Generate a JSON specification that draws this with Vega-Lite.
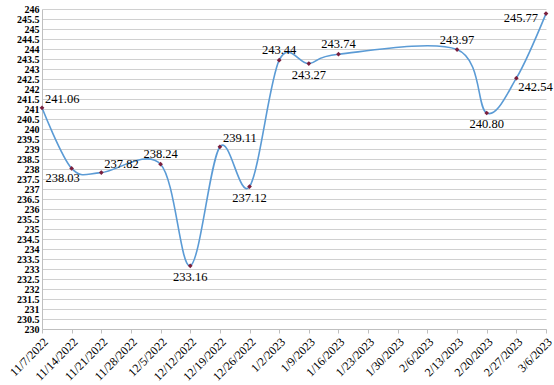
{
  "$schema": "https://vega.github.io/schema/vega-lite/v6.json",
  "autosize": {"type": "none"},
  "padding": {"left": 42, "top": 9, "right": 8, "bottom": 56},
  "width": 504,
  "height": 320,
  "background": "white",
  "config": {"view": {"stroke": null}},
  "data": {"values": [
    {"date": "11/7/2022", "value": 241.06, "pos": "ra"},
    {"date": "11/14/2022", "value": 238.03, "pos": "bl"},
    {"date": "11/21/2022", "value": 237.82, "pos": "ra"},
    {"date": "12/5/2022", "value": 238.24, "pos": "a"},
    {"date": "12/12/2022", "value": 233.16, "pos": "b"},
    {"date": "12/19/2022", "value": 239.11, "pos": "ra"},
    {"date": "12/26/2022", "value": 237.12, "pos": "b"},
    {"date": "1/2/2023", "value": 243.44, "pos": "a"},
    {"date": "1/9/2023", "value": 243.27, "pos": "b"},
    {"date": "1/16/2023", "value": 243.74, "pos": "a"},
    {"date": "2/13/2023", "value": 243.97, "pos": "a"},
    {"date": "2/20/2023", "value": 240.80, "pos": "b"},
    {"date": "2/27/2023", "value": 242.54, "pos": "rb"},
    {"date": "3/6/2023", "value": 245.77, "pos": "l"}
  ]},
  "encoding": {
    "x": {
      "field": "date", "type": "ordinal",
      "scale": {"type": "point", "padding": 0, "domain": ["11/7/2022","11/14/2022","11/21/2022","11/28/2022","12/5/2022","12/12/2022","12/19/2022","12/26/2022","1/2/2023","1/9/2023","1/16/2023","1/23/2023","1/30/2023","2/6/2023","2/13/2023","2/20/2023","2/27/2023","3/6/2023"]},
      "axis": {
        "title": null, "labelAngle": -45, "labelAlign": "right", "labelBaseline": "top",
        "labelFont": "Liberation Serif", "labelFontSize": 12, "labelColor": "#000000",
        "labelPadding": 3, "labelOverlap": false, "domainColor": "#bfbfbf", "tickColor": "#bfbfbf", "tickSize": 4,
        "grid": false
      }
    },
    "y": {
      "field": "value", "type": "quantitative",
      "scale": {"domain": [230, 246], "nice": false, "zero": false},
      "axis": {
        "title": null,
        "values": [230,230.5,231,231.5,232,232.5,233,233.5,234,234.5,235,235.5,236,236.5,237,237.5,238,238.5,239,239.5,240,240.5,241,241.5,242,242.5,243,243.5,244,244.5,245,245.5,246],
        "format": "~f", "labelOverlap": false,
        "labelFont": "Liberation Serif", "labelFontSize": 10, "labelFontWeight": "bold", "labelColor": "#000000",
        "labelPadding": 3, "ticks": false, "domainColor": "#bfbfbf",
        "grid": true, "gridColor": "#d0d0d0", "gridWidth": 1
      }
    }
  },
  "layer": [
    {"mark": {"type": "line", "interpolate": "cardinal", "color": "#5b9bd5", "strokeWidth": 1.6}},
    {"mark": {"type": "point", "shape": "diamond", "filled": true, "color": "#7a1f3d", "size": 22, "opacity": 1}},
    {"transform": [{"filter": "datum.pos == 'a'"}],
     "mark": {"type": "text", "font": "Liberation Serif", "fontSize": 12.5, "dy": -10, "align": "center", "color": "#000000"},
     "encoding": {"text": {"field": "value", "type": "quantitative", "format": ".2f"}}},
    {"transform": [{"filter": "datum.pos == 'b'"}],
     "mark": {"type": "text", "font": "Liberation Serif", "fontSize": 12.5, "dy": 11, "align": "center", "color": "#000000"},
     "encoding": {"text": {"field": "value", "type": "quantitative", "format": ".2f"}}},
    {"transform": [{"filter": "datum.pos == 'bl'"}],
     "mark": {"type": "text", "font": "Liberation Serif", "fontSize": 12.5, "dy": 10, "dx": -9, "align": "center", "color": "#000000"},
     "encoding": {"text": {"field": "value", "type": "quantitative", "format": ".2f"}}},
    {"transform": [{"filter": "datum.pos == 'ra'"}],
     "mark": {"type": "text", "font": "Liberation Serif", "fontSize": 12.5, "dy": -9, "dx": 3, "align": "left", "color": "#000000"},
     "encoding": {"text": {"field": "value", "type": "quantitative", "format": ".2f"}}},
    {"transform": [{"filter": "datum.pos == 'rb'"}],
     "mark": {"type": "text", "font": "Liberation Serif", "fontSize": 12.5, "dy": 9, "dx": 2, "align": "left", "color": "#000000"},
     "encoding": {"text": {"field": "value", "type": "quantitative", "format": ".2f"}}},
    {"transform": [{"filter": "datum.pos == 'l'"}],
     "mark": {"type": "text", "font": "Liberation Serif", "fontSize": 12.5, "dy": 4, "dx": -8, "align": "right", "color": "#000000"},
     "encoding": {"text": {"field": "value", "type": "quantitative", "format": ".2f"}}}
  ]
}
